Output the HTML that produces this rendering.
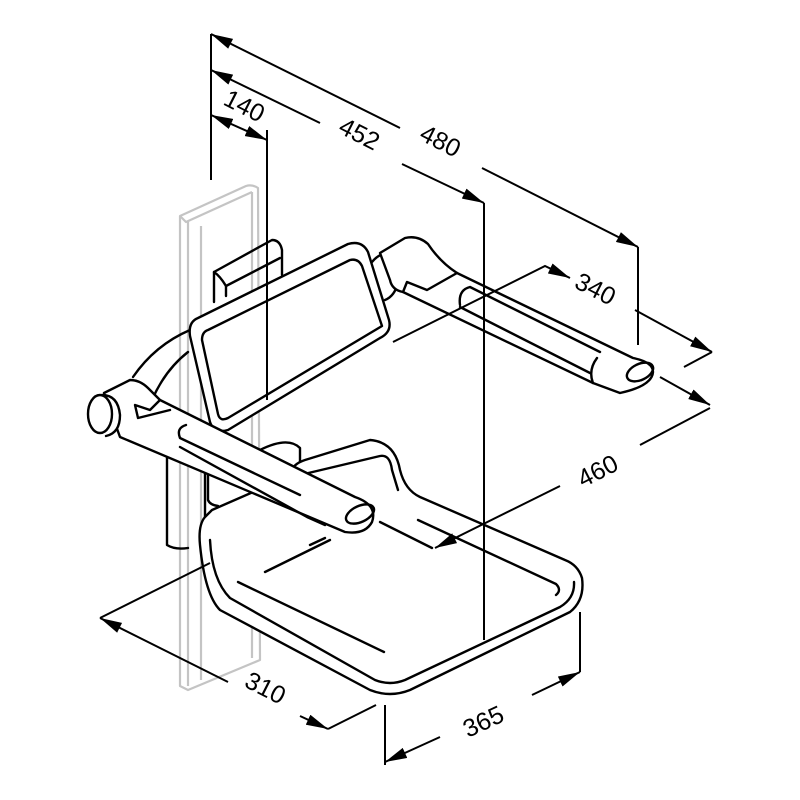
<!DOCTYPE html>
<html><head><meta charset="utf-8"><style>
html,body{margin:0;padding:0;background:#fff;width:800px;height:800px;overflow:hidden}
svg{display:block}
text{font-family:"Liberation Sans",Arial,sans-serif;font-size:25px;fill:#000}
</style></head><body>
<svg width="800" height="800" viewBox="0 0 800 800" xmlns="http://www.w3.org/2000/svg">
<defs>
<marker id="b" viewBox="0 0 22 11" refX="22" refY="5.5" markerWidth="22" markerHeight="11" orient="auto-start-reverse" markerUnits="userSpaceOnUse"><path d="M0,0 L22,5.5 L0,11 z" fill="#000"/></marker>
</defs>
<g fill="none" stroke="#c4c4c4" stroke-width="2.2" stroke-linejoin="round">
<path d="M180,216 L246,186 Q252,184 258,188 L260,660 L188,690 L180,686 Z"/>
<path d="M188,222 L188,686"/>
<path d="M180,216 L186,222 L252,192"/>
<path d="M201,226 L201,680"/>
<path d="M252,192 L252,658"/>
</g>
<g fill="none" stroke="#000" stroke-width="2.4" stroke-linejoin="round" stroke-linecap="round">
<path d="M167,455 L167,545 Q175,550 188,548"/>
<path d="M205,430 L205,520"/>
<path d="M214,302 L214,272 L272,240 Q280,240 282,250 L282,275"/>
<path d="M214,272 Q220,276 226,286 L226,296"/>
<path d="M226,286 L280,258"/>
<path d="M133,377 Q155,345 190,330"/>
<path d="M152,400 Q165,370 188,352"/>
<path fill="#fff" d="M198,318 L348,244 Q362,240 368,252 L389,320 Q392,332 380,338 L228,430 Q214,434 210,422 L190,336 Q188,322 198,318 Z"/>
<path d="M208,330 L350,260 Q358,258 362,266 L382,326 L228,418 Q220,422 218,414 L202,340 Q202,332 208,330 Z"/>
<path d="M208,440 L208,500 Q210,505 218,506"/>
<path d="M260,450 Q288,436 300,448 L300,470"/>
<!-- right arm -->
<path d="M372,262 Q382,250 392,256 Q400,266 398,282 Q395,296 385,300"/>
<path fill="#fff" d="M380,253 L405,238 Q418,235 428,244 Q440,262 457,273 L633,358 Q653,362 653,372 Q652,386 620,393 L593,383 L403,292 Q392,290 390,280 Z"/>
<path d="M403,292 L407,282 L427,290 L457,273"/>
<path d="M460,305 Q458,290 470,287 L600,352"/>
<path d="M460,307 L590,373"/>
<path d="M593,383 Q588,370 597,358"/>
<ellipse cx="640" cy="372" rx="14" ry="8" transform="rotate(-25 640 372)"/>
<!-- seat -->
<path fill="#fff" d="M205,517 Q198,525 200,545 Q205,595 220,610 L370,690 Q390,698 410,690 L570,612 Q585,600 582,578 Q578,565 565,560 L420,497 Q405,490 400,470 Q395,442 370,440 L305,460 Q290,465 292,475 L212,510 Z"/>
<path d="M238,582 L384,652"/>
<path d="M210,540 Q212,580 230,598 L375,680 Q390,686 405,680 L560,607 Q575,598 574,582"/>
<path d="M300,475 L380,456 Q390,454 392,470 L398,490"/>
<path d="M418,520 L556,584 Q562,590 556,595"/>
<path d="M265,572 L330,540"/>
<path d="M310,545 L325,538"/>
<path d="M380,522 L432,548"/>
<!-- left arm (in front of seat) -->
<path fill="#fff" d="M104,393 L130,380 Q140,380 148,388 L160,400 L355,497 Q378,505 372,522 Q365,535 345,532 L120,437 Z"/>
<path d="M160,400 L150,410 L135,405 L138,418 L170,410"/>
<path d="M186,425 Q176,428 180,438 L300,495"/>
<path d="M180,447 L307,517 L325,525"/>
<path fill="#fff" d="M102,395 Q118,395 120,415 Q120,433 106,436"/>
<ellipse fill="#fff" cx="100" cy="414" rx="12" ry="19"/>
<ellipse cx="360" cy="514" rx="15" ry="8" transform="rotate(-25 360 514)"/>
</g>
<g fill="none" stroke="#000" stroke-width="2">
<path d="M211,34 L211,180"/>
<path d="M267,130 L267,400"/>
<path d="M484,203 L484,640"/>
<path d="M638,247 L638,345"/>
<path d="M211,34 L400,128" marker-start="url(#b)"/>
<path d="M482,168 L638,247" marker-end="url(#b)"/>
<path d="M211,70 L320,123" marker-start="url(#b)"/>
<path d="M402,164 L484,203" marker-end="url(#b)"/>
<path d="M211,115 L267,140" marker-start="url(#b)" marker-end="url(#b)"/>
<path d="M393,342 L545,266 L570,278" marker-end="url(#b)"/>
<path d="M635,310 L712,352" marker-end="url(#b)"/>
<path d="M684,367 L712,352"/>
<path d="M560,486 L435,548" marker-end="url(#b)"/>
<path d="M640,445 L710,408"/>
<path d="M660,377 L710,405" marker-end="url(#b)"/>
<path d="M210,563 L100,618"/>
<path d="M228,682 L100,618" marker-end="url(#b)"/>
<path d="M300,716 L328,729" marker-end="url(#b)"/>
<path d="M328,729 L376,705"/>
<path d="M385,705 L385,765"/>
<path d="M580,612 L580,672"/>
<path d="M385,762 L440,737" marker-start="url(#b)"/>
<path d="M532,695 L580,672" marker-end="url(#b)"/>
</g>
<text transform="translate(222,104) rotate(27)">140</text>
<text transform="translate(337,132) rotate(27)">452</text>
<text transform="translate(418,139) rotate(27)">480</text>
<text transform="translate(573,287) rotate(27)">340</text>
<text transform="translate(583,488) rotate(-27)">460</text>
<text transform="translate(243,686) rotate(27)">310</text>
<text transform="translate(468,738) rotate(-25)">365</text>
</svg>
</body></html>
